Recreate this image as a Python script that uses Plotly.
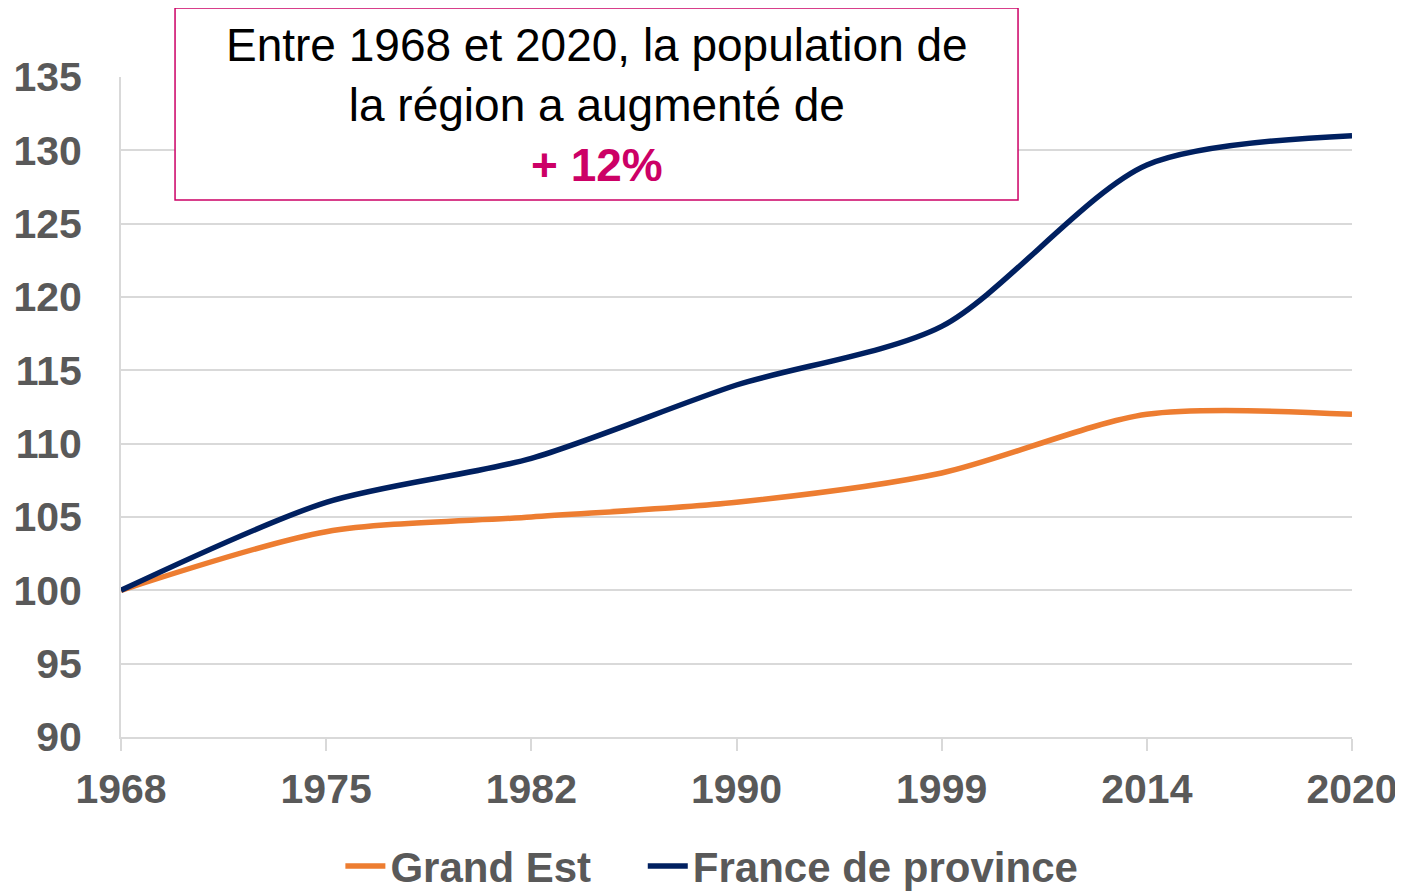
import plotly.graph_objects as go

annees = ["1968", "1975", "1982", "1990", "1999", "2014", "2020"]
grand_est = [100, 104, 105, 106, 108, 112, 112]
france_province = [100, 106, 109, 114, 118, 129, 131]

gris_texte = "#595959"
gris_ligne = "#d9d9d9"
police = "Liberation Sans, Arial, sans-serif"

fig = go.Figure()
fig.add_trace(go.Scatter(x=annees, y=grand_est, name="Grand Est\u00a0\u00a0\u00a0\u00a0", mode="lines",
                         line=dict(color="#ED7D31", width=5.5, shape="spline", smoothing=0.8),
                         cliponaxis=False))
fig.add_trace(go.Scatter(x=annees, y=france_province, name="France de province", mode="lines",
                         line=dict(color="#002060", width=5.5, shape="spline", smoothing=0.8),
                         cliponaxis=False))

# encadré du commentaire
fig.add_shape(type="rect", xref="paper", yref="paper",
              x0=0.0439, x1=0.7287, y0=0.8136, y1=1.1045,
              line=dict(color="#CC0066", width=1.5), fillcolor="white", layer="above")
fig.add_annotation(xref="paper", yref="paper", x=0.3863, y=0.9576,
                   xanchor="center", yanchor="middle", showarrow=False,
                   text="Entre 1968 et 2020, la population de<br>la région a augmenté de<br>"
                        "<b><span style='color:#CC0066'>+ 12%</span></b>",
                   font=dict(family=police, size=46, color="black"), align="center")

fig.update_xaxes(type="category", range=[0, 6], showgrid=False, automargin=False,
                 showline=True, linecolor=gris_ligne, linewidth=2,
                 ticks="outside", ticklen=12, tickcolor=gris_ligne, tickwidth=2,
                 ticklabelstandoff=3,
                 tickfont=dict(family=police, size=41, color=gris_texte, weight="bold"))
fig.update_yaxes(range=[90, 135], dtick=5, showgrid=True, gridcolor=gris_ligne, gridwidth=2,
                 showline=True, linecolor=gris_ligne, linewidth=2, zeroline=False,
                 automargin=False, ticklabelstandoff=29,
                 tickfont=dict(family=police, size=41, color=gris_texte, weight="bold"))

fig.update_layout(
    width=1395, height=892,
    margin=dict(l=113, r=51, t=69, b=163),
    plot_bgcolor="white", paper_bgcolor="white",
    showlegend=True,
    legend=dict(orientation="h", x=0.48, xanchor="center",
                yref="container", y=0.038, yanchor="middle",
                font=dict(family=police, size=42, color=gris_texte, weight="bold"),
                itemwidth=40, tracegroupgap=0),
)

fig.write_html("out.html")
